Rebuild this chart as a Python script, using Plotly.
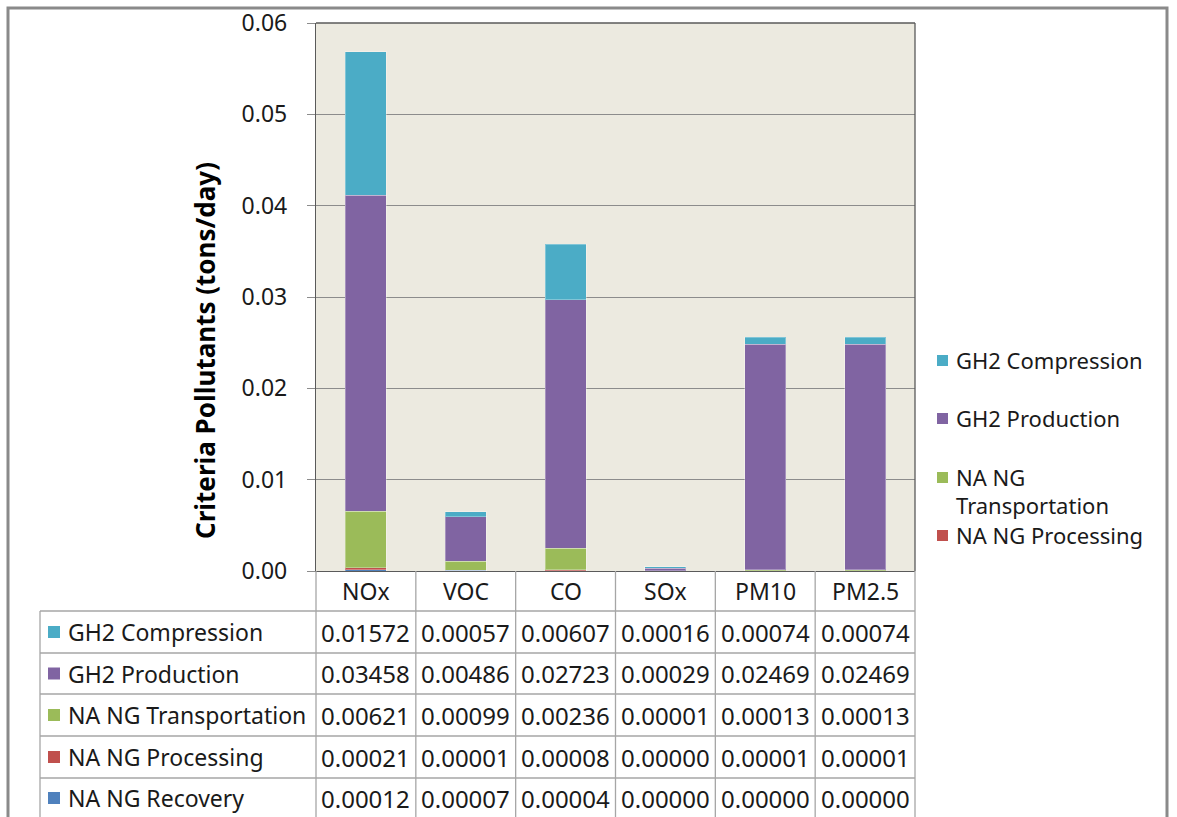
import plotly.graph_objects as go

# Emission categories and per-source contributions (tons/day)
pollutants = ["NOx", "VOC", "CO", "SOx", "PM10", "PM2.5"]
gh2_compression = [0.01572, 0.00057, 0.00607, 0.00016, 0.00074, 0.00074]
gh2_production = [0.03458, 0.00486, 0.02723, 0.00029, 0.02469, 0.02469]
na_ng_transportation = [0.00621, 0.00099, 0.00236, 0.00001, 0.00013, 0.00013]
na_ng_processing = [0.00021, 0.00001, 0.00008, 0.00000, 0.00001, 0.00001]
na_ng_recovery = [0.00012, 0.00007, 0.00004, 0.00000, 0.00000, 0.00000]
y_ticks = [0.00, 0.01, 0.02, 0.03, 0.04, 0.05, 0.06]

W, H = 1177, 817
FONT = "Noto Sans"
TXT = "#1a1a1a"
GRID = "#8c8c8c"
TABLE_LINE = "#a6a6a6"

# series listed from the top of the stack down (table row order)
series = [
    ("GH2 Compression", gh2_compression, "#4BACC6"),
    ("GH2 Production", gh2_production, "#8064A2"),
    ("NA NG Transportation", na_ng_transportation, "#9BBB59"),
    ("NA NG Processing", na_ng_processing, "#C0504D"),
    ("NA NG Recovery", na_ng_recovery, "#4F81BD"),
]


def px(x):
    return x / W


def py(y):
    return 1 - y / H


# plot area in pixels
PL, PR, PT, PB = 316, 915, 23, 571

fig = go.Figure()
for name, vals, col in reversed(series):
    fig.add_trace(go.Bar(
        x=list(range(len(pollutants))), y=vals, name=name,
        marker=dict(color=col, line=dict(color="rgba(255,255,255,0.3)", width=1)),
        width=0.41, showlegend=False,
    ))

shapes = []
annotations = []

# outer chart frame
shapes.append(dict(type="rect", xref="paper", yref="paper",
                   x0=px(8), x1=px(1167), y0=py(830), y1=py(8),
                   line=dict(color="#8a8a8a", width=3), layer="below"))

# data table grid
row_edges = [611, 653, 694, 736, 778, 830]
col_edges = [PL + i * (PR - PL) / 6 for i in range(7)]
line = dict(color=TABLE_LINE, width=1.3)
for ye in row_edges[:-1]:
    shapes.append(dict(type="line", xref="paper", yref="paper",
                       x0=px(40), x1=px(PR), y0=py(ye), y1=py(ye), line=line))
shapes.append(dict(type="line", xref="paper", yref="paper",
                   x0=px(40), x1=px(40), y0=py(611), y1=py(830), line=line))
for xe in col_edges:
    shapes.append(dict(type="line", xref="paper", yref="paper",
                       x0=px(xe), x1=px(xe), y0=py(PB), y1=py(830), line=line))

# category header row
for i, p in enumerate(pollutants):
    annotations.append(dict(x=i, y=py(591), xref="x", yref="paper", text=p,
                            showarrow=False, xanchor="center", yanchor="middle",
                            font=dict(family=FONT, size=23, color=TXT)))

# table body rows
for r, (name, vals, col) in enumerate(series):
    yc = (row_edges[r] + row_edges[r + 1]) / 2 if r < 4 else 798
    shapes.append(dict(type="rect", xref="paper", yref="paper",
                       x0=px(48), x1=px(60), y0=py(yc + 6), y1=py(yc - 6),
                       fillcolor=col, line=dict(width=0)))
    annotations.append(dict(x=px(66), y=py(yc), xref="paper", yref="paper",
                            text=name, showarrow=False, xanchor="left",
                            yanchor="middle",
                            font=dict(family=FONT, size=23, color=TXT)))
    for i, v in enumerate(vals):
        annotations.append(dict(x=i, y=py(yc), xref="x", yref="paper",
                                text=f"{v:.5f}", showarrow=False,
                                xanchor="center", yanchor="middle",
                                font=dict(family=FONT, size=24, color=TXT)))

# legend on the right (recovery entry falls outside the frame)
legend_items = [
    ("GH2 Compression", 360, "#4BACC6"),
    ("GH2 Production", 418, "#8064A2"),
    ("NA NG", 477, "#9BBB59"),
    ("NA NG Processing", 535, "#C0504D"),
]
for text, yc, col in legend_items:
    shapes.append(dict(type="rect", xref="paper", yref="paper",
                       x0=px(937), x1=px(948), y0=py(yc + 6), y1=py(yc - 5),
                       fillcolor=col, line=dict(width=0)))
    annotations.append(dict(x=px(954), y=py(yc), xref="paper", yref="paper",
                            text=text, showarrow=False, xanchor="left",
                            yanchor="middle", align="left",
                            font=dict(family=FONT, size=22, color=TXT)))
# wrapped second line of the transportation entry
annotations.append(dict(x=px(954), y=py(505), xref="paper", yref="paper",
                        text="Transportation", showarrow=False, xanchor="left",
                        yanchor="middle", align="left",
                        font=dict(family=FONT, size=22, color=TXT)))

# plot area frame (top/right)
shapes.append(dict(type="line", xref="paper", yref="paper",
                   x0=px(PL), x1=px(PR), y0=py(PT), y1=py(PT),
                   line=dict(color="#5a5a5a", width=1.3)))
shapes.append(dict(type="line", xref="paper", yref="paper",
                   x0=px(PR), x1=px(PR), y0=py(PT), y1=py(PB),
                   line=dict(color="#5a5a5a", width=1.3)))

# y-axis title
annotations.append(dict(x=px(185), y=py(351), xref="paper", yref="paper",
                        text="<b>Criteria Pollutants (tons/day)</b>",
                        showarrow=False, textangle=-90,
                        font=dict(family=FONT, size=26, color="#000000")))

fig.update_layout(
    width=W, height=H,
    margin=dict(l=0, r=0, t=0, b=0, autoexpand=False),
    paper_bgcolor="white",
    plot_bgcolor="#ECEAE0",
    barmode="stack",
    showlegend=False,
    shapes=shapes,
    annotations=annotations,
    xaxis=dict(domain=[px(PL), px(PR)], range=[-0.5, 5.5], automargin=False,
               showticklabels=False, showgrid=False, zeroline=False,
               showline=True, linecolor="#5a5a5a", linewidth=1.3, ticks=""),
    yaxis=dict(domain=[py(PB), py(PT)], range=[0, 0.06], automargin=False,
               tickvals=y_ticks, tickformat=".2f",
               tickfont=dict(family=FONT, size=23, color=TXT),
               showgrid=True, gridcolor=GRID, gridwidth=1,
               zeroline=False, showline=True, linecolor="#5a5a5a",
               linewidth=1.3, ticks="outside", ticklen=8, tickcolor=GRID,
               ticklabelstandoff=15),
)

fig.write_html("out.html")
